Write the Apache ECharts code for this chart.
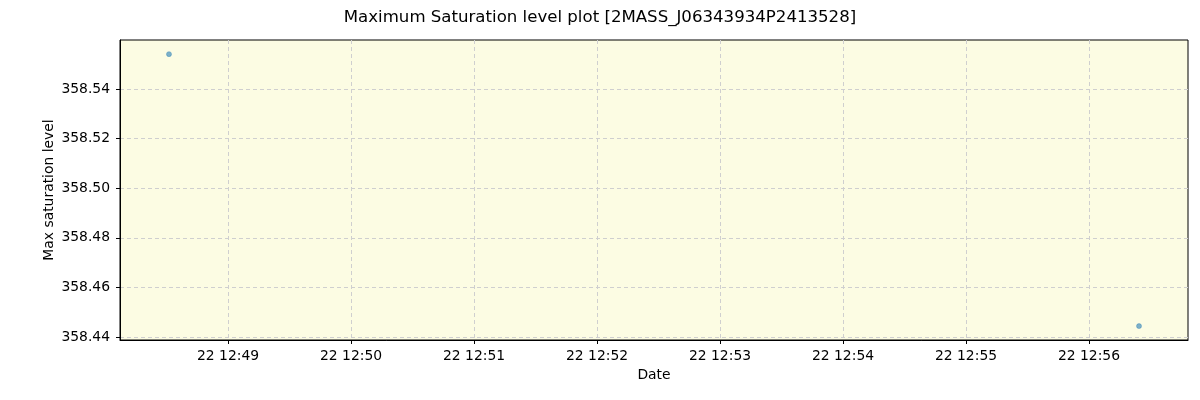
<!DOCTYPE html>
<html>
<head>
<meta charset="utf-8">
<script src="https://cdn.jsdelivr.net/npm/echarts@6/dist/echarts.min.js"></script>
<style>html,body{margin:0;padding:0;background:#fff}#c{width:1200px;height:400px}</style>
</head>
<body>
<div id="c"></div>
<script>
// Data (UTC times, day 22)
const pointTimes = ['2020-01-22T12:48:31.2Z', '2020-01-22T12:56:24.4Z'];
const pointValues = [358.5541, 358.4444];
const xTickTimes = ['2020-01-22T12:49:00Z','2020-01-22T12:50:00Z','2020-01-22T12:51:00Z','2020-01-22T12:52:00Z','2020-01-22T12:53:00Z','2020-01-22T12:54:00Z','2020-01-22T12:55:00Z','2020-01-22T12:56:00Z'];
const yTicks = [358.44, 358.46, 358.48, 358.50, 358.52, 358.54];
const xRange = ['2020-01-22T12:48:07.3Z', '2020-01-22T12:56:48.3Z'];
const yRange = [358.4388, 358.5598];

const ms = s => new Date(s).getTime();
const pad = n => (n < 10 ? '0' : '') + n;
const fmtTime = v => { const d = new Date(v); return d.getUTCDate() + ' ' + pad(d.getUTCHours()) + ':' + pad(d.getUTCMinutes()); };

const font = 'DejaVu Sans';
const chart = echarts.init(document.getElementById('c'), null, {renderer: 'canvas'});
chart.setOption({
  animation: false,
  textStyle: {fontFamily: font},
  title: {
    text: 'Maximum Saturation level plot [2MASS_J06343934P2413528]',
    left: 'center', top: 4,
    textStyle: {fontFamily: font, fontSize: 16.6, fontWeight: 'normal', color: '#000'}
  },
  grid: {
    left: 120, right: 12, top: 40, bottom: 60,
    show: true, backgroundColor: '#fcfce3', borderColor: '#000', borderWidth: 1,
    containLabel: false
  },
  xAxis: {
    type: 'value',
    min: ms(xRange[0]), max: ms(xRange[1]),
    name: 'Date', nameLocation: 'middle', nameGap: 28, nameMoveOverlap: false,
    nameTextStyle: {fontFamily: font, fontSize: 13.9, color: '#000'},
    axisLine: {show: true, onZero: false, lineStyle: {color: '#000', width: 1}},
    axisTick: {show: true, length: 4, lineStyle: {color: '#000'}, customValues: xTickTimes.map(ms)},
    axisLabel: {fontFamily: font, fontSize: 13.9, color: '#000', margin: 9, customValues: xTickTimes.map(ms), formatter: v => fmtTime(v)},
    splitLine: {show: true, lineStyle: {color: '#cfcfcf', type: [4, 3], width: 1}}
  },
  yAxis: {
    type: 'value',
    min: yRange[0], max: yRange[1],
    name: 'Max saturation level', nameLocation: 'middle', nameGap: 64, nameMoveOverlap: false,
    nameTextStyle: {fontFamily: font, fontSize: 13.9, color: '#000'},
    axisLine: {show: true, onZero: false, lineStyle: {color: '#000', width: 1}},
    axisTick: {show: true, length: 4, lineStyle: {color: '#000'}, customValues: yTicks},
    axisLabel: {fontFamily: font, fontSize: 13.9, color: '#000', margin: 10, customValues: yTicks, formatter: v => v.toFixed(2)},
    splitLine: {show: true, lineStyle: {color: '#cfcfcf', type: [4, 3], width: 1}}
  },
  series: [{
    type: 'scatter',
    data: pointTimes.map((t, i) => [ms(t), pointValues[i]]),
    symbol: 'circle', symbolSize: 5,
    itemStyle: {color: 'rgba(31,119,180,0.72)', borderColor: 'rgba(31,119,180,0.85)', borderWidth: 0.5}
  }]
});
</script>
</body>
</html>
